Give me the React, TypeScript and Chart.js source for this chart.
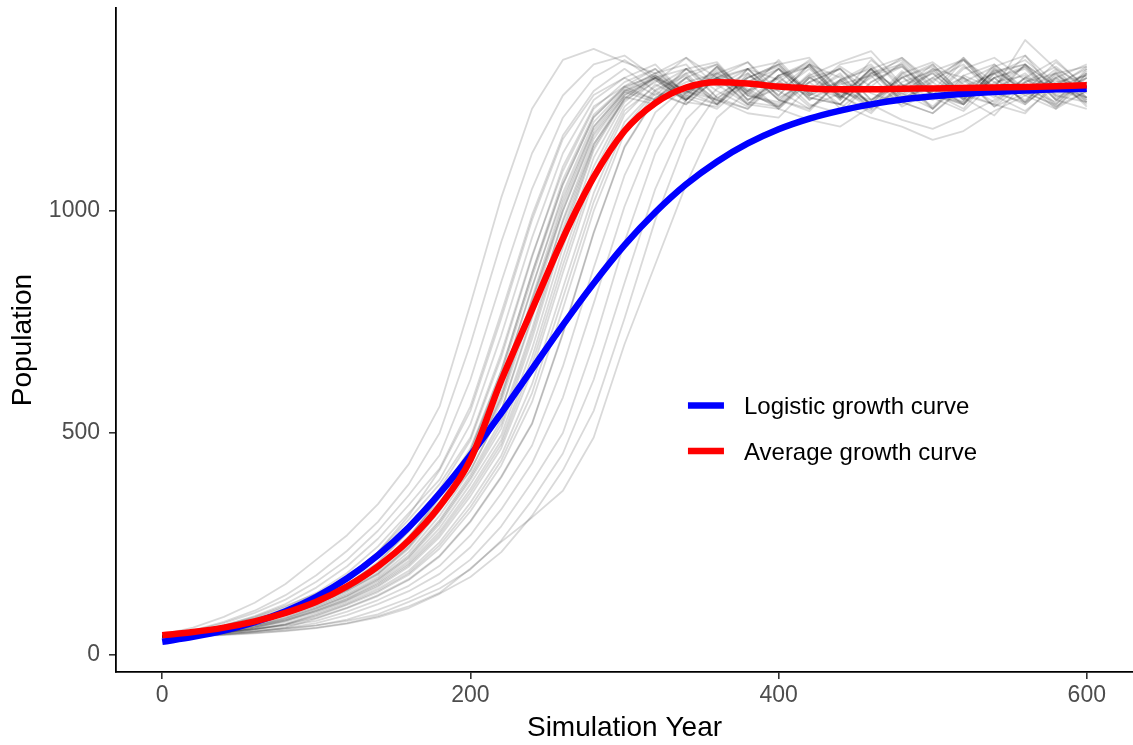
import React, { useEffect, useRef } from "react";
import { Chart, registerables } from "chart.js";

Chart.register(...registerables);

// ---- data ----
const years = [0, 20, 40, 60, 80, 100, 120, 140, 160, 180, 200, 220, 240, 260, 280, 300, 320, 340, 360, 380, 400, 420, 440, 460, 480, 500, 520, 540, 560, 580, 600];

const logisticCurve = [30, 41, 55, 74, 99, 131, 173, 225, 288, 364, 450, 545, 644, 743, 837, 923, 997, 1060, 1111, 1152, 1184, 1208, 1226, 1240, 1251, 1258, 1264, 1268, 1271, 1274, 1275];

const averageCurve = [45, 52, 62, 76, 95, 120, 155, 200, 258, 335, 440, 618, 778, 938, 1076, 1180, 1243, 1278, 1290, 1287, 1280, 1276, 1274, 1274, 1275, 1276, 1277, 1278, 1279, 1281, 1283];

const sim01 = [46, 62, 86, 118, 160, 215, 270, 340, 430, 560, 790, 1030, 1230, 1340, 1365, 1335, 1310, 1345, 1280, 1320, 1260, 1330, 1255, 1300, 1345, 1290, 1240, 1320, 1270, 1335, 1280];
const sim02 = [42, 56, 75, 100, 135, 180, 235, 300, 385, 500, 700, 930, 1130, 1260, 1330, 1350, 1300, 1265, 1325, 1250, 1290, 1340, 1275, 1230, 1310, 1260, 1325, 1280, 1350, 1265, 1300];
const sim03 = [44, 55, 72, 95, 125, 165, 215, 280, 360, 450, 620, 840, 1050, 1210, 1300, 1340, 1295, 1250, 1310, 1335, 1270, 1230, 1295, 1320, 1250, 1300, 1340, 1265, 1290, 1230, 1310];
const sim04 = [40, 52, 67, 88, 115, 152, 200, 262, 338, 420, 560, 770, 990, 1170, 1270, 1320, 1270, 1305, 1240, 1290, 1330, 1265, 1310, 1235, 1280, 1320, 1255, 1215, 1290, 1325, 1270];
const sim05 = [43, 53, 66, 84, 108, 140, 185, 245, 320, 395, 520, 720, 940, 1130, 1250, 1300, 1330, 1260, 1240, 1305, 1270, 1320, 1255, 1340, 1285, 1235, 1300, 1265, 1330, 1280, 1250];
const sim06 = [41, 50, 62, 79, 102, 133, 175, 232, 305, 385, 490, 680, 900, 1090, 1230, 1290, 1320, 1250, 1310, 1275, 1235, 1300, 1260, 1320, 1250, 1290, 1345, 1270, 1240, 1300, 1265];
const sim07 = [45, 54, 66, 82, 103, 130, 168, 220, 290, 370, 460, 640, 860, 1060, 1210, 1280, 1250, 1320, 1270, 1235, 1305, 1330, 1260, 1225, 1280, 1310, 1250, 1330, 1270, 1310, 1245];
const sim08 = [40, 48, 59, 74, 94, 121, 158, 210, 280, 360, 445, 610, 830, 1030, 1190, 1270, 1310, 1330, 1255, 1230, 1290, 1260, 1325, 1280, 1335, 1265, 1240, 1300, 1320, 1250, 1315];
const sim09 = [42, 50, 61, 75, 94, 119, 153, 200, 268, 345, 430, 580, 800, 1000, 1170, 1260, 1300, 1250, 1320, 1270, 1230, 1205, 1190, 1235, 1265, 1300, 1250, 1315, 1270, 1235, 1290];
const sim10 = [44, 51, 61, 74, 92, 115, 148, 193, 258, 335, 415, 550, 765, 975, 1150, 1250, 1290, 1345, 1300, 1270, 1320, 1250, 1295, 1240, 1310, 1335, 1285, 1245, 1300, 1340, 1275];
const sim11 = [42, 50, 61, 75, 96, 121, 152, 196, 262, 354, 460, 630, 850, 1060, 1212, 1276, 1310, 1270, 1300, 1245, 1235, 1290, 1320, 1265, 1240, 1295, 1330, 1260, 1225, 1280, 1305];
const sim12 = [43, 49, 59, 72, 92, 117, 148, 190, 254, 343, 449, 610, 826, 1040, 1200, 1273, 1250, 1310, 1245, 1300, 1330, 1345, 1270, 1240, 1305, 1230, 1290, 1325, 1350, 1285, 1255];
const sim13 = [41, 47, 58, 71, 91, 116, 145, 185, 246, 333, 438, 590, 804, 1020, 1189, 1270, 1300, 1255, 1325, 1250, 1305, 1240, 1220, 1290, 1330, 1260, 1245, 1310, 1240, 1300, 1330];
const sim14 = [45, 50, 60, 72, 90, 113, 142, 181, 240, 324, 427, 570, 780, 1000, 1175, 1265, 1305, 1270, 1250, 1230, 1300, 1325, 1255, 1320, 1245, 1220, 1280, 1310, 1260, 1295, 1240];
const sim15 = [40, 46, 55, 68, 86, 111, 138, 176, 232, 314, 416, 550, 758, 980, 1162, 1261, 1300, 1320, 1335, 1260, 1245, 1310, 1250, 1320, 1345, 1280, 1255, 1325, 1265, 1240, 1300];
const sim16 = [42, 48, 56, 67, 84, 108, 135, 172, 225, 304, 406, 530, 735, 960, 1150, 1257, 1240, 1300, 1250, 1220, 1210, 1280, 1255, 1320, 1265, 1230, 1295, 1235, 1290, 1310, 1250];
const sim17 = [44, 49, 56, 66, 82, 106, 132, 167, 218, 295, 395, 510, 712, 940, 1137, 1252, 1305, 1260, 1325, 1270, 1340, 1265, 1240, 1305, 1325, 1270, 1345, 1275, 1385, 1320, 1280];
const sim18 = [39, 44, 51, 62, 78, 102, 128, 163, 212, 286, 385, 495, 690, 918, 1120, 1245, 1300, 1245, 1235, 1310, 1250, 1225, 1295, 1240, 1205, 1185, 1215, 1250, 1300, 1235, 1270];
const sim19 = [41, 46, 52, 62, 77, 100, 126, 160, 207, 278, 374, 484, 670, 896, 1100, 1235, 1295, 1250, 1315, 1260, 1320, 1270, 1330, 1345, 1275, 1250, 1305, 1330, 1275, 1245, 1320];
const sim20 = [43, 48, 54, 62, 75, 97, 122, 154, 199, 266, 358, 466, 640, 861, 1070, 1217, 1285, 1250, 1305, 1240, 1230, 1290, 1320, 1250, 1300, 1330, 1260, 1240, 1220, 1290, 1305];
const sim21 = [40, 44, 50, 58, 70, 93, 118, 149, 190, 254, 343, 449, 610, 826, 1040, 1200, 1273, 1310, 1330, 1260, 1240, 1305, 1335, 1360, 1285, 1255, 1320, 1345, 1295, 1270, 1310];
const sim22 = [42, 46, 51, 58, 68, 88, 113, 142, 181, 240, 324, 427, 570, 780, 1000, 1175, 1265, 1240, 1300, 1320, 1250, 1305, 1230, 1290, 1325, 1260, 1240, 1300, 1245, 1315, 1255];
const sim23 = [38, 42, 47, 53, 62, 82, 106, 133, 169, 222, 300, 400, 520, 723, 950, 1143, 1254, 1300, 1240, 1320, 1335, 1260, 1290, 1230, 1300, 1325, 1250, 1315, 1330, 1255, 1290];
const sim24 = [44, 48, 52, 58, 66, 77, 98, 124, 156, 201, 270, 364, 472, 650, 872, 1080, 1222, 1279, 1250, 1320, 1295, 1235, 1265, 1310, 1330, 1255, 1225, 1290, 1305, 1240, 1310];
const sim25 = [41, 45, 49, 54, 61, 72, 90, 115, 144, 183, 243, 328, 432, 580, 792, 1010, 1182, 1268, 1300, 1240, 1305, 1325, 1250, 1315, 1245, 1220, 1275, 1310, 1330, 1260, 1245];
const sim26 = [40, 43, 47, 52, 58, 67, 80, 102, 128, 163, 215, 290, 390, 500, 700, 930, 1130, 1250, 1295, 1320, 1260, 1330, 1300, 1240, 1255, 1315, 1340, 1265, 1245, 1310, 1325];
const sim27 = [42, 45, 49, 54, 60, 67, 77, 92, 120, 150, 193, 258, 349, 454, 620, 838, 1050, 1206, 1275, 1310, 1250, 1230, 1290, 1325, 1260, 1320, 1300, 1235, 1265, 1320, 1255];
const sim28 = [39, 42, 45, 49, 54, 61, 71, 85, 106, 138, 176, 232, 314, 416, 550, 758, 980, 1162, 1261, 1300, 1330, 1255, 1240, 1310, 1340, 1275, 1245, 1300, 1325, 1250, 1230];
const sim29 = [40, 43, 46, 50, 55, 62, 72, 88, 110, 140, 195, 255, 310, 370, 490, 700, 880, 1060, 1210, 1270, 1300, 1255, 1240, 1210, 1190, 1160, 1180, 1225, 1260, 1230, 1270];
const sim30 = [42, 50, 62, 77, 98, 126, 160, 207, 278, 374, 484, 670, 896, 1100, 1235, 1281, 1320, 1265, 1300, 1335, 1255, 1290, 1240, 1310, 1275, 1330, 1260, 1300, 1245, 1285, 1320];
const sim31 = [43, 50, 60, 73, 91, 115, 146, 183, 243, 328, 432, 580, 792, 1010, 1182, 1268, 1245, 1300, 1330, 1265, 1235, 1300, 1320, 1250, 1285, 1230, 1305, 1275, 1310, 1250, 1290];
const sim32 = [40, 46, 54, 65, 81, 105, 133, 170, 221, 300, 400, 520, 724, 950, 1143, 1254, 1300, 1270, 1240, 1300, 1325, 1260, 1295, 1330, 1255, 1280, 1240, 1320, 1265, 1300, 1235];
const sim33 = [44, 49, 56, 65, 79, 99, 124, 157, 203, 272, 366, 475, 655, 878, 1085, 1226, 1280, 1320, 1255, 1290, 1230, 1300, 1270, 1245, 1315, 1260, 1340, 1290, 1250, 1305, 1270];
const sim34 = [41, 45, 51, 59, 70, 90, 115, 145, 185, 247, 333, 438, 590, 804, 1020, 1189, 1270, 1240, 1300, 1265, 1320, 1250, 1285, 1305, 1235, 1270, 1300, 1255, 1330, 1280, 1245];
const sim35 = [44, 54, 67, 86, 111, 138, 176, 232, 314, 416, 550, 758, 980, 1162, 1261, 1300, 1260, 1320, 1285, 1240, 1305, 1335, 1270, 1250, 1300, 1265, 1230, 1310, 1340, 1280, 1255];
const sim36 = [39, 47, 58, 72, 92, 120, 150, 198, 265, 357, 466, 640, 861, 1070, 1217, 1280, 1305, 1255, 1230, 1290, 1320, 1265, 1305, 1240, 1270, 1310, 1255, 1285, 1325, 1260, 1300];
const sim37 = [43, 47, 52, 59, 68, 84, 107, 135, 171, 224, 302, 402, 522, 726, 952, 1145, 1255, 1290, 1310, 1250, 1275, 1330, 1260, 1220, 1290, 1315, 1265, 1240, 1300, 1280, 1325];

const simulations = [sim01, sim02, sim03, sim04, sim05, sim06, sim07, sim08, sim09, sim10, sim11, sim12, sim13, sim14, sim15, sim16, sim17, sim18, sim19, sim20, sim21, sim22, sim23, sim24, sim25, sim26, sim27, sim28, sim29, sim30, sim31, sim32, sim33, sim34, sim35, sim36, sim37];

const xTicks = [0, 200, 400, 600];
const yTicks = [0, 500, 1000];
const legendLabels = ["Logistic growth curve", "Average growth curve"];
const legendColors = ["#0000FF", "#FF0000"];

const FONT = "'Liberation Sans', Arial, Helvetica, sans-serif";

const insideLegend = {
  id: "insideLegend",
  afterDraw(chart: any) {
    const { ctx, chartArea } = chart;
    const w = chartArea.right - chartArea.left;
    const h = chartArea.bottom - chartArea.top;
    const x0 = chartArea.left + 0.5624 * w;
    const keyLen = 36;
    ctx.save();
    legendLabels.forEach((label, i) => {
      const y = chartArea.top + 0.5986 * h + i * 45.5;
      ctx.strokeStyle = legendColors[i];
      ctx.lineWidth = 6.5;
      ctx.lineCap = "butt";
      ctx.beginPath();
      ctx.moveTo(x0, y);
      ctx.lineTo(x0 + keyLen, y);
      ctx.stroke();
      ctx.fillStyle = "#000000";
      ctx.font = `24px ${FONT}`;
      ctx.textBaseline = "alphabetic";
      ctx.textAlign = "left";
      ctx.fillText(label, x0 + 56, y + 8.7);
    });
    ctx.restore();
  },
};

export default function App() {
  const canvasRef = useRef<HTMLCanvasElement | null>(null);

  useEffect(() => {
    const canvas = canvasRef.current;
    if (!canvas) return;

    const toPoints = (arr: number[]) => years.map((x, i) => ({ x, y: arr[i] }));

    const datasets: any[] = [
      {
        label: legendLabels[1],
        data: toPoints(averageCurve),
        borderColor: legendColors[1],
        borderWidth: 6.5,
        pointRadius: 0,
        cubicInterpolationMode: "monotone",
        borderJoinStyle: "round",
        order: 0,
      },
      {
        label: legendLabels[0],
        data: toPoints(logisticCurve),
        borderColor: legendColors[0],
        borderWidth: 6.5,
        pointRadius: 0,
        cubicInterpolationMode: "monotone",
        borderJoinStyle: "round",
        order: 1,
      },
      ...simulations.map((s, k) => ({
        label: `Simulation ${k + 1}`,
        data: toPoints(s),
        borderColor: "rgba(0,0,0,0.15)",
        borderWidth: 1.8,
        pointRadius: 0,
        tension: 0,
        borderJoinStyle: "round",
        order: 2,
      })),
    ];

    const axisFit = (s: any) => {
      s.paddingTop = 0;
      s.paddingBottom = 0;
      s.paddingLeft = 0;
      s.paddingRight = 0;
    };

    const chart = new Chart(canvas, {
      type: "line",
      data: { datasets },
      plugins: [insideLegend],
      options: {
        animation: false,
        responsive: false,
        devicePixelRatio: 1,
        events: [],
        layout: { padding: { top: 8, right: 0, bottom: 0, left: 0 } },
        plugins: {
          legend: { display: false },
          tooltip: { enabled: false },
        },
        scales: {
          x: {
            type: "linear",
            min: -30,
            max: 630,
            afterBuildTicks: (s: any) => {
              s.ticks = xTicks.map((v) => ({ value: v }));
            },
            afterFit: (s: any) => {
              s.height = 73;
              axisFit(s);
            },
            grid: {
              display: true,
              drawOnChartArea: false,
              drawTicks: true,
              tickLength: 7,
              color: "#333333",
              lineWidth: 1.6,
            },
            border: { display: true, color: "#000000", width: 1.8 },
            ticks: {
              color: "#4D4D4D",
              font: { family: FONT, size: 23 },
              padding: 3,
              maxRotation: 0,
              autoSkip: false,
              callback: (v: any) => String(v),
            },
            title: {
              display: true,
              text: "Simulation Year",
              color: "#000000",
              font: { family: FONT, size: 28 },
              padding: { top: 0, bottom: 0 },
            },
          },
          y: {
            type: "linear",
            min: -38,
            max: 1457,
            afterBuildTicks: (s: any) => {
              s.ticks = yTicks.map((v) => ({ value: v }));
            },
            afterFit: (s: any) => {
              s.width = 116;
              axisFit(s);
            },
            grid: {
              display: true,
              drawOnChartArea: false,
              drawTicks: true,
              tickLength: 7,
              color: "#333333",
              lineWidth: 1.6,
            },
            border: { display: true, color: "#000000", width: 1.8 },
            ticks: {
              color: "#4D4D4D",
              font: { family: FONT, size: 23 },
              padding: 9,
              autoSkip: false,
              callback: (v: any) => String(v),
            },
            title: {
              display: true,
              text: "Population",
              color: "#000000",
              font: { family: FONT, size: 28 },
              padding: { top: 6.5, bottom: 0 },
            },
          },
        },
      } as any,
    });

    return () => {
      chart.destroy();
    };
  }, []);

  return (
    <div style={{ position: "absolute", left: 0, top: 0, width: 1133, height: 745, background: "#ffffff" }}>
      <canvas ref={canvasRef} width={1133} height={745} style={{ display: "block", width: 1133, height: 745 }} />
    </div>
  );
}
